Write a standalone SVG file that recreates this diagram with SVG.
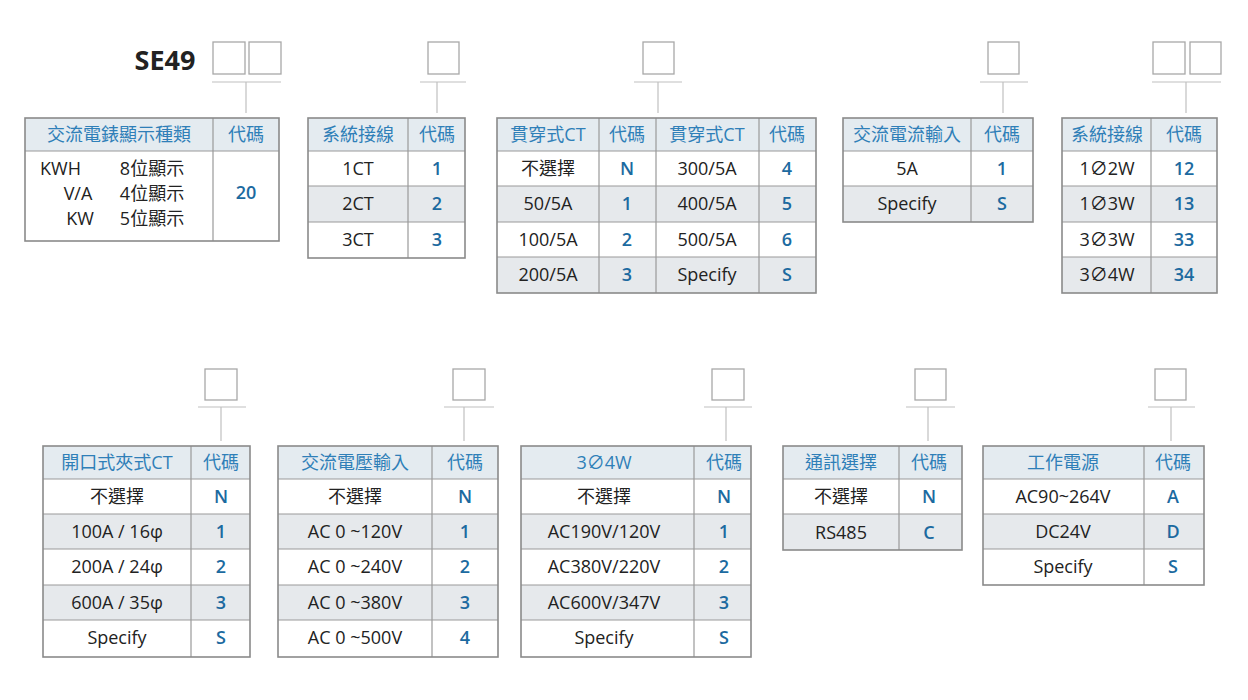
<svg xmlns="http://www.w3.org/2000/svg" width="1248" height="700" viewBox="0 0 1248 700">
<style>
text{font-family:"Open Sans","Noto Sans CJK TC",sans-serif;font-size:18px;text-anchor:middle;fill:#222}
.h{fill:#2f7fb8}
.c{fill:#1c6aa0;font-weight:600}
.hd{fill:#e4ebf0}
.g{fill:#e6e9ec}
.tb{fill:none;stroke:#8a8a8a;stroke-width:1.6}
.ln{stroke:#9a9a9a;stroke-width:1.2;fill:none}
.ln2{stroke:#c0c0c0;stroke-width:1.2;fill:none}
.bx{fill:#fff;stroke:#a8a8a8;stroke-width:1.3}
</style>
<rect width="1248" height="700" fill="#fff"/>
<text x="165" y="70" style="font-size:27px;font-weight:700;fill:#222">SE49</text>
<g id="connectors">
<rect class="bx" x="213" y="42" width="32" height="32"/><rect class="bx" x="249" y="42" width="32" height="32"/>
<path class="ln2" d="M212 82H281M246 82V113"/>
<rect class="bx" x="428" y="42" width="31" height="32"/><path class="ln2" d="M420 82H466M437 82V113"/>
<rect class="bx" x="643" y="42" width="31" height="32"/><path class="ln2" d="M634 82H682M658 82V113"/>
<rect class="bx" x="988" y="42" width="31" height="32"/><path class="ln2" d="M980 82H1028M1003 82V113"/>
<rect class="bx" x="1153" y="42" width="32" height="32"/><rect class="bx" x="1190" y="42" width="31" height="32"/>
<path class="ln2" d="M1152 82H1221M1186 82V113"/>
<rect class="bx" x="205" y="369" width="32" height="31"/><path class="ln2" d="M198 407H246M221 407V441"/>
<rect class="bx" x="453" y="369" width="32" height="31"/><path class="ln2" d="M444 407H494M464 407V441"/>
<rect class="bx" x="712" y="369" width="32" height="31"/><path class="ln2" d="M704 407H752M726 407V441"/>
<rect class="bx" x="915" y="369" width="31" height="31"/><path class="ln2" d="M906 407H955M928 407V441"/>
<rect class="bx" x="1155" y="369" width="31" height="31"/><path class="ln2" d="M1148 407H1195M1171 407V441"/>
</g>
<g id="t1">
<rect class="hd" x="25" y="118" width="254" height="33"/>
<path class="ln" d="M25 151H279M213 118V241"/>
<rect class="tb" x="25" y="118" width="254" height="123"/>
<text class="h" x="119" y="141">交流電錶顯示種類</text><text class="h" x="246" y="141">代碼</text>
<text x="98" y="175" style="text-anchor:start" dx="-58">KWH</text><text x="152" y="175">8位顯示</text>
<text x="78" y="200">V/A</text><text x="152" y="200">4位顯示</text>
<text x="80" y="225">KW</text><text x="152" y="225">5位顯示</text>
<text class="c" x="246" y="199">20</text>
</g>
<g id="t2">
<rect class="hd" x="308" y="118" width="157" height="33"/>
<rect class="g" x="308" y="186" width="157" height="36"/>
<path class="ln" d="M308 151H465M308 186H465M308 222H465M408 118V258"/>
<rect class="tb" x="308" y="118" width="157" height="140"/>
<text class="h" x="358" y="141">系統接線</text><text class="h" x="437" y="141">代碼</text>
<text x="358" y="175">1CT</text><text class="c" x="437" y="175">1</text>
<text x="358" y="210">2CT</text><text class="c" x="437" y="210">2</text>
<text x="358" y="246">3CT</text><text class="c" x="437" y="246">3</text>
</g>
<g id="t3">
<rect class="hd" x="497" y="118" width="319" height="33"/>
<rect class="g" x="497" y="186" width="319" height="36"/><rect class="g" x="497" y="257" width="319" height="36"/>
<path class="ln" d="M497 151H816M497 186H816M497 222H816M497 257H816M599 118V293M656 118V293M759 118V293"/>
<rect class="tb" x="497" y="118" width="319" height="175"/>
<text class="h" x="548" y="141">貫穿式CT</text><text class="h" x="627" y="141">代碼</text>
<text class="h" x="707" y="141">貫穿式CT</text><text class="h" x="787" y="141">代碼</text>
<text x="548" y="175">不選擇</text><text class="c" x="627" y="175">N</text><text x="707" y="175">300/5A</text><text class="c" x="787" y="175">4</text>
<text x="548" y="210">50/5A</text><text class="c" x="627" y="210">1</text><text x="707" y="210">400/5A</text><text class="c" x="787" y="210">5</text>
<text x="548" y="246">100/5A</text><text class="c" x="627" y="246">2</text><text x="707" y="246">500/5A</text><text class="c" x="787" y="246">6</text>
<text x="548" y="281">200/5A</text><text class="c" x="627" y="281">3</text><text x="707" y="281">Specify</text><text class="c" x="787" y="281">S</text>
</g>
<g id="t4">
<rect class="hd" x="843" y="118" width="190" height="33"/>
<rect class="g" x="843" y="186" width="190" height="36"/>
<path class="ln" d="M843 151H1033M843 186H1033M971 118V222"/>
<rect class="tb" x="843" y="118" width="190" height="104"/>
<text class="h" x="907" y="141">交流電流輸入</text><text class="h" x="1002" y="141">代碼</text>
<text x="907" y="175">5A</text><text class="c" x="1002" y="175">1</text>
<text x="907" y="210">Specify</text><text class="c" x="1002" y="210">S</text>
</g>
<g id="t5">
<rect class="hd" x="1062" y="118" width="155" height="33"/>
<rect class="g" x="1062" y="186" width="155" height="36"/><rect class="g" x="1062" y="257" width="155" height="36"/>
<path class="ln" d="M1062 151H1217M1062 186H1217M1062 222H1217M1062 257H1217M1151 118V293"/>
<rect class="tb" x="1062" y="118" width="155" height="175"/>
<text class="h" x="1107" y="141">系統接線</text><text class="h" x="1184" y="141">代碼</text>
<text x="1107" y="175">1∅2W</text><text class="c" x="1184" y="175">12</text>
<text x="1107" y="210">1∅3W</text><text class="c" x="1184" y="210">13</text>
<text x="1107" y="246">3∅3W</text><text class="c" x="1184" y="246">33</text>
<text x="1107" y="281">3∅4W</text><text class="c" x="1184" y="281">34</text>
</g>
<g id="b1">
<rect class="hd" x="43" y="446" width="207" height="33"/>
<rect class="g" x="43" y="514" width="207" height="35"/><rect class="g" x="43" y="585" width="207" height="35"/>
<path class="ln" d="M43 479H250M43 514H250M43 549H250M43 585H250M43 620H250M191 446V657"/>
<rect class="tb" x="43" y="446" width="207" height="211"/>
<text class="h" x="117" y="469">開口式夾式CT</text><text class="h" x="221" y="469">代碼</text>
<text x="117" y="503">不選擇</text><text class="c" x="221" y="503">N</text>
<text x="117" y="538">100A / 16φ</text><text class="c" x="221" y="538">1</text>
<text x="117" y="573">200A / 24φ</text><text class="c" x="221" y="573">2</text>
<text x="117" y="609">600A / 35φ</text><text class="c" x="221" y="609">3</text>
<text x="117" y="644">Specify</text><text class="c" x="221" y="644">S</text>
</g>
<g id="b2">
<rect class="hd" x="278" y="446" width="220" height="33"/>
<rect class="g" x="278" y="514" width="220" height="35"/><rect class="g" x="278" y="585" width="220" height="35"/>
<path class="ln" d="M278 479H498M278 514H498M278 549H498M278 585H498M278 620H498M432 446V657"/>
<rect class="tb" x="278" y="446" width="220" height="211"/>
<text class="h" x="355" y="469">交流電壓輸入</text><text class="h" x="465" y="469">代碼</text>
<text x="355" y="503">不選擇</text><text class="c" x="465" y="503">N</text>
<text x="355" y="538">AC 0 ~120V</text><text class="c" x="465" y="538">1</text>
<text x="355" y="573">AC 0 ~240V</text><text class="c" x="465" y="573">2</text>
<text x="355" y="609">AC 0 ~380V</text><text class="c" x="465" y="609">3</text>
<text x="355" y="644">AC 0 ~500V</text><text class="c" x="465" y="644">4</text>
</g>
<g id="b3">
<rect class="hd" x="521" y="446" width="230" height="33"/>
<rect class="g" x="521" y="514" width="230" height="35"/><rect class="g" x="521" y="585" width="230" height="35"/>
<path class="ln" d="M521 479H751M521 514H751M521 549H751M521 585H751M521 620H751M694 446V657"/>
<rect class="tb" x="521" y="446" width="230" height="211"/>
<text class="h" x="604" y="469">3∅4W</text><text class="h" x="724" y="469">代碼</text>
<text x="604" y="503">不選擇</text><text class="c" x="724" y="503">N</text>
<text x="604" y="538">AC190V/120V</text><text class="c" x="724" y="538">1</text>
<text x="604" y="573">AC380V/220V</text><text class="c" x="724" y="573">2</text>
<text x="604" y="609">AC600V/347V</text><text class="c" x="724" y="609">3</text>
<text x="604" y="644">Specify</text><text class="c" x="724" y="644">S</text>
</g>
<g id="b4">
<rect class="hd" x="783" y="446" width="179" height="33"/>
<rect class="g" x="783" y="514" width="179" height="36"/>
<path class="ln" d="M783 479H962M783 514H962M899 446V550"/>
<rect class="tb" x="783" y="446" width="179" height="104"/>
<text class="h" x="841" y="469">通訊選擇</text><text class="h" x="929" y="469">代碼</text>
<text x="841" y="503">不選擇</text><text class="c" x="929" y="503">N</text>
<text x="841" y="539">RS485</text><text class="c" x="929" y="539">C</text>
</g>
<g id="b5">
<rect class="hd" x="983" y="446" width="221" height="33"/>
<rect class="g" x="983" y="514" width="221" height="35"/>
<path class="ln" d="M983 479H1204M983 514H1204M983 549H1204M1144 446V585"/>
<rect class="tb" x="983" y="446" width="221" height="139"/>
<text class="h" x="1063" y="469">工作電源</text><text class="h" x="1173" y="469">代碼</text>
<text x="1063" y="503">AC90~264V</text><text class="c" x="1173" y="503">A</text>
<text x="1063" y="538">DC24V</text><text class="c" x="1173" y="538">D</text>
<text x="1063" y="573">Specify</text><text class="c" x="1173" y="573">S</text>
</g>
</svg>
